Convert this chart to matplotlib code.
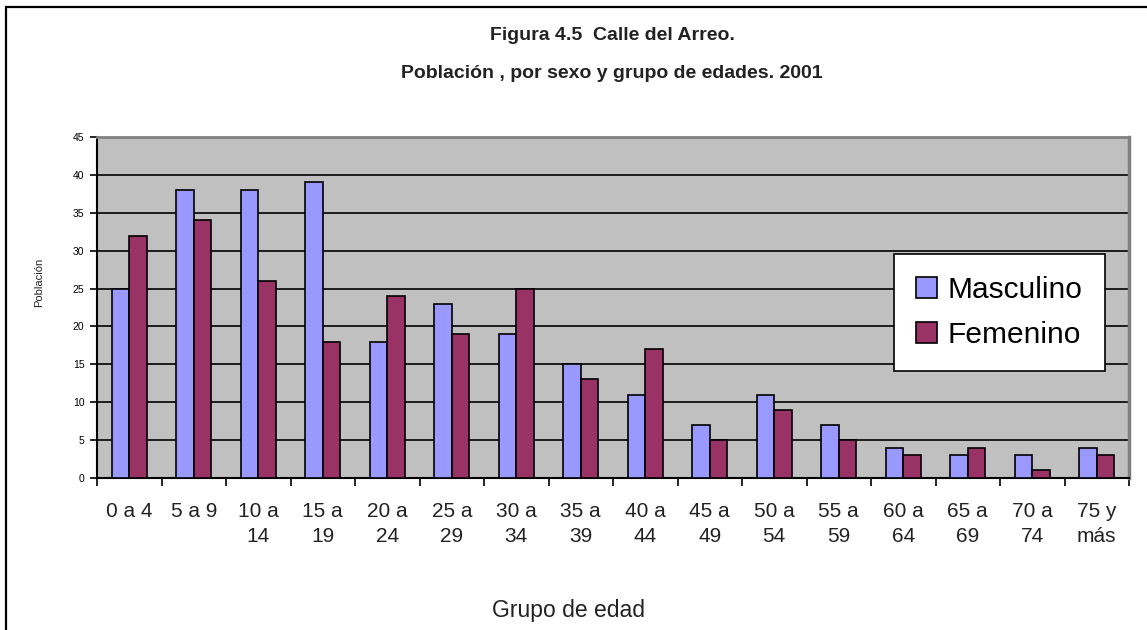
import matplotlib.pyplot as plt
import numpy as np
from matplotlib.patches import Rectangle

grupos = ['0 a 4', '5 a 9', '10 a\n14', '15 a\n19', '20 a\n24', '25 a\n29', '30 a\n34', '35 a\n39',
          '40 a\n44', '45 a\n49', '50 a\n54', '55 a\n59', '60 a\n64', '65 a\n69', '70 a\n74', '75 y\nmás']
masculino = [25, 38, 38, 39, 18, 23, 19, 15, 11, 7, 11, 7, 4, 3, 3, 4]
femenino = [32, 34, 26, 18, 24, 19, 25, 13, 17, 5, 9, 5, 3, 4, 1, 3]

plt.rcParams['font.family'] = ['Liberation Sans', 'DejaVu Sans']

W, H = 1147, 630
fig = plt.figure(figsize=(W / 100, H / 100), dpi=100)
fig.patch.set_facecolor('white')

# marco exterior (cortado a la derecha y abajo)
fig.patches.append(Rectangle((6 / W, -0.1), 1.2, 1 - 7 / H + 0.1, transform=fig.transFigure,
                             fill=False, edgecolor='black', linewidth=1.6))

left, right, top, bottom = 97, 1129, 137, 478
ax = fig.add_axes([left / W, 1 - bottom / H, (right - left) / W, (bottom - top) / H])
ax.set_facecolor('#C0C0C0')

x = np.arange(len(grupos))
w = 0.27
ax.bar(x - w / 2, masculino, w, color='#9999FF', edgecolor='black', linewidth=1.2,
       label='Masculino', zorder=3)
ax.bar(x + w / 2, femenino, w, color='#993366', edgecolor='black', linewidth=1.2,
       label='Femenino', zorder=3)

ax.set_xlim(-0.5, len(grupos) - 0.5)
ax.set_ylim(0, 45)
ax.set_yticks(range(0, 46, 5))
ax.yaxis.grid(True, color='black', linewidth=1.2, zorder=1)
ax.set_axisbelow(True)

ax.set_xticks(np.arange(len(grupos) + 1) - 0.5)
ax.set_xticklabels([])
ax.set_xticks(x, minor=True)
ax.set_xticklabels(grupos, minor=True, fontsize=15, color='#222222', linespacing=1.45)
ax.tick_params(axis='x', which='major', direction='out', length=6, width=1.2)
ax.tick_params(axis='x', which='minor', length=0, pad=17)
ax.tick_params(axis='y', direction='out', length=5, width=1.2, labelsize=7.5, pad=4)

ax.spines['left'].set_linewidth(1.5)
ax.spines['bottom'].set_linewidth(1.5)
ax.spines['top'].set_color('#808080')
ax.spines['right'].set_color('#808080')
ax.spines['top'].set_linewidth(2)
ax.spines['right'].set_linewidth(2.5)

fig.text(39 / W, 1 - 282 / H, 'Población', rotation=90, ha='center', va='center',
         fontsize=8, color='#222222')
fig.text(569 / W, 1 - 610 / H, 'Grupo de edad', ha='center', va='center', fontsize=16.5,
         color='#222222')

fig.text(612 / W, 1 - 35 / H, 'Figura 4.5  Calle del Arreo.', ha='center', va='center',
         fontsize=14, fontweight='bold', color='#222222')
fig.text(612 / W, 1 - 73 / H, 'Población , por sexo y grupo de edades. 2001', ha='center',
         va='center', fontsize=14, fontweight='bold', color='#222222')

leg = ax.legend(loc='upper left', bbox_to_anchor=((894 - left) / (right - left), (bottom - 254) / (bottom - top)),
                fontsize=21.5, frameon=True, fancybox=False, edgecolor='black', framealpha=1,
                handlelength=0.7, handleheight=0.7, handletextpad=0.35, borderpad=0.75,
                borderaxespad=0, labelspacing=0.55)
leg.get_frame().set_linewidth(1.2)
leg.set_zorder(5)

fig.savefig('out.png', dpi=100)
